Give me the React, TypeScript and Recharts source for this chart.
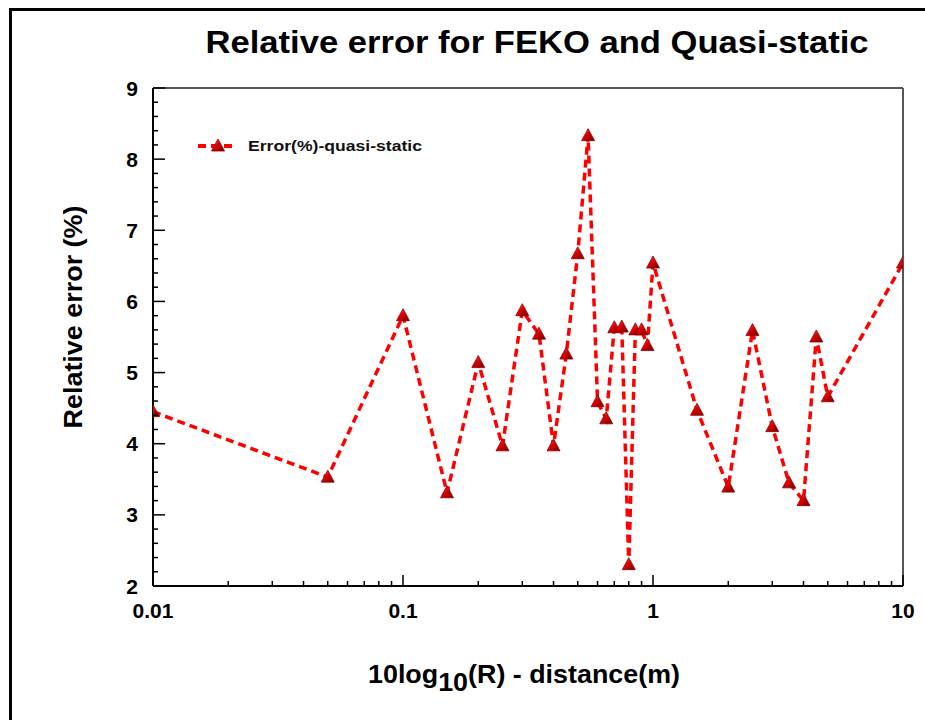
import { LineChart, Line, XAxis, YAxis, Legend, ReferenceLine } from "recharts";

// distance (m) on a log axis, relative error in %
const distance = [
  0.01, 0.05, 0.1, 0.15, 0.2, 0.25, 0.3, 0.35, 0.4, 0.45, 0.5, 0.55, 0.6, 0.65, 0.7,
  0.75, 0.8, 0.85, 0.9, 0.95, 1, 1.5, 2, 2.5, 3, 3.5, 4, 4.5, 5, 10,
];
const errorPct = [
  4.45, 3.53, 5.8, 3.31, 5.14, 3.97, 5.87, 5.54, 3.97, 5.26, 6.67, 8.33, 4.59, 4.35, 5.63,
  5.64, 2.3, 5.6, 5.6, 5.38, 6.54, 4.47, 3.39, 5.59, 4.24, 3.45, 3.2, 5.5, 4.66, 6.54,
];

const xMajor = [0.01, 0.1, 1, 10];
const xTickLabels = ["0.01", "0.1", "1", "10"];
const yMajor = [2, 3, 4, 5, 6, 7, 8, 9];

const FONT = "'Liberation Sans', Arial, sans-serif";

// minor ticks: 2..9 per decade, 0.2 steps on y
const xTicks: number[] = [];
for (let d = 0; d < 3; d++) {
  for (let m = 1; m <= 9; m++) xTicks.push(Number((m * xMajor[d]).toPrecision(3)));
}
xTicks.push(10);
const yTicks: number[] = [];
for (let i = 0; i <= 35; i++) yTicks.push(Number((2 + i * 0.2).toFixed(1)));

const data = distance.map((d, i) => ({ distance: d, error: errorPct[i] }));

function XTick(props: any) {
  const { x, y, payload } = props;
  const idx = xMajor.findIndex((m) => Math.abs(m - payload.value) < 1e-9);
  const major = idx >= 0;
  return (
    <g>
      <line x1={x} x2={x} y1={y} y2={y - (major ? 11 : 5)} stroke="#000" strokeWidth={1.5} />
      {major && (
        <text x={x} y={y + 32} textAnchor="middle" fontSize={21} fontWeight="bold" fontFamily={FONT} fill="#000">
          {xTickLabels[idx]}
        </text>
      )}
    </g>
  );
}

function YTick(props: any) {
  const { x, y, payload } = props;
  const major = yMajor.includes(payload.value);
  return (
    <g>
      <line x1={x} x2={x + (major ? 12 : 5)} y1={y} y2={y} stroke="#000" strokeWidth={1.5} />
      {major && (
        <text x={x - 15} y={y} dy="0.36em" textAnchor="end" fontSize={21} fontWeight="bold" fontFamily={FONT} fill="#000">
          {payload.value}
        </text>
      )}
    </g>
  );
}

function TriangleDot(props: any) {
  const { cx, cy, index } = props;
  if (cx == null || cy == null) return null;
  return (
    <polygon
      key={`tri-${index}`}
      points={`${cx},${cy - 7} ${cx - 6.5},${cy + 5} ${cx + 6.5},${cy + 5}`}
      fill="url(#triFill)"
      stroke="#8a0000"
      strokeWidth={0.8}
    />
  );
}

function LegendBox() {
  return (
    <svg width={240} height={24} style={{ display: "block" }}>
      <line x1={3} x2={42} y1={12} y2={12} stroke="#ff0000" strokeWidth={4} strokeDasharray="8 5" />
      <polygon points="23,5 16.5,17 29.5,17" fill="url(#triFill)" stroke="#8a0000" strokeWidth={0.8} />
      <text x={53} y={17} fontSize={15} fontWeight="bold" fontFamily={FONT} fill="#111" textLength={174} lengthAdjust="spacingAndGlyphs">
        Error(%)-quasi-static
      </text>
    </svg>
  );
}

export default function App() {
  return (
    <div style={{ position: "absolute", left: 0, top: 0, width: 925, height: 720, overflow: "hidden", background: "#fff" }}>
      <div style={{ position: "absolute", left: 9, top: 8, width: 1000, height: 1000, border: "3px solid #000" }} />
      <div style={{ position: "absolute", left: 0, top: 0 }}>
        <LineChart width={925} height={720} data={data} margin={{ top: 88, right: 22, bottom: 0, left: 0 }}>
          <XAxis
            dataKey="distance"
            type="number"
            scale="log"
            domain={[0.01, 10]}
            ticks={xTicks}
            interval={0}
            height={134}
            tickSize={0}
            tickMargin={0}
            tick={<XTick />}
            axisLine={{ stroke: "#000", strokeWidth: 2 }}
            tickLine={false}
            allowDataOverflow
          />
          <YAxis
            type="number"
            domain={[2, 9]}
            ticks={yTicks}
            interval={0}
            width={153}
            tickSize={0}
            tickMargin={0}
            tick={<YTick />}
            axisLine={{ stroke: "#000", strokeWidth: 2 }}
            tickLine={false}
            allowDataOverflow
          />
          <ReferenceLine y={9} stroke="#555" strokeWidth={2} />
          <ReferenceLine x={10} stroke="#555" strokeWidth={2} />
          <Legend
            layout="horizontal"
            verticalAlign="middle"
            align="center"
            wrapperStyle={{ left: 195, top: 134, width: 240 }}
            content={() => <LegendBox />}
          />
          <Line
            type="linear"
            dataKey="error"
            name="Error(%)-quasi-static"
            stroke="#ff0000"
            strokeWidth={3.5}
            strokeDasharray="8 5"
            dot={TriangleDot}
            activeDot={false}
            isAnimationActive={false}
          />
        </LineChart>
      </div>
      <svg width={925} height={720} style={{ position: "absolute", left: 0, top: 0, pointerEvents: "none" }}>
        <defs>
          <linearGradient id="triFill" x1="0" y1="0" x2="1" y2="1">
            <stop offset="0%" stopColor="#ff7070" />
            <stop offset="45%" stopColor="#e00000" />
            <stop offset="100%" stopColor="#6a0000" />
          </linearGradient>
        </defs>
        <text x={537} y={53} textAnchor="middle" fontSize={32} fontWeight="bold" fontFamily={FONT} fill="#000" textLength={663} lengthAdjust="spacingAndGlyphs">
          Relative error for FEKO and Quasi-static
        </text>
        <text
          transform="translate(82,317) rotate(-90)"
          textAnchor="middle"
          fontSize={25}
          fontWeight="bold"
          fontFamily={FONT}
          fill="#000"
          textLength={223}
          lengthAdjust="spacingAndGlyphs"
        >
          Relative error (%)
        </text>
        <text x={368} y={683} fontSize={26} fontWeight="bold" fontFamily={FONT} fill="#000" textLength={312} lengthAdjust="spacingAndGlyphs">
          10log
          <tspan dy={8}>10</tspan>
          <tspan dy={-8}>(R) - distance(m)</tspan>
        </text>
      </svg>
    </div>
  );
}
